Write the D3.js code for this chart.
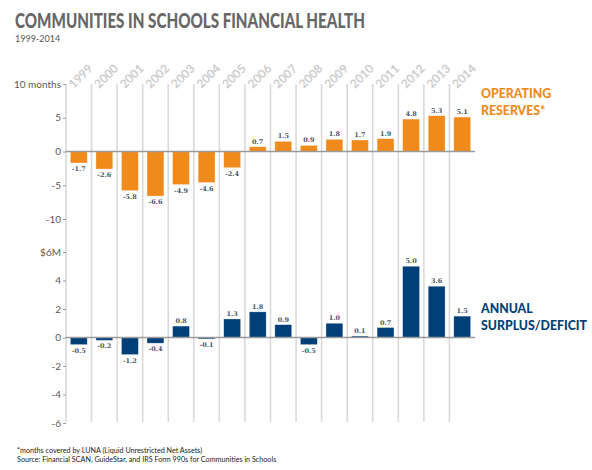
<!DOCTYPE html>
<html><head><meta charset="utf-8">
<script src="https://cdn.jsdelivr.net/npm/d3@7/dist/d3.min.js"></script>
<style>
body{margin:0;background:#fff;}
svg{display:block;}
</style></head>
<body>
<script>
const years = ["1999","2000","2001","2002","2003","2004","2005","2006","2007","2008","2009","2010","2011","2012","2013","2014"];
const reserves = [-1.7,-2.6,-5.8,-6.6,-4.9,-4.6,-2.4,0.7,1.5,0.9,1.8,1.7,1.9,4.8,5.3,5.1];
const surplus = [-0.5,-0.2,-1.2,-0.4,0.8,-0.1,1.3,1.8,0.9,-0.5,1.0,0.1,0.7,5.0,3.6,1.5];
const reserveTicks = [10,5,0,-5,-10];
const reserveTickLabels = ["10 months","5","0","-5","-10"];
const surplusTicks = [6,4,2,0,-2,-4,-6];
const surplusTickLabels = ["$6M","4","2","0","-2","-4","-6"];

const W=592,H=470;
const orange="#F08A1A", navy="#003F78";
const svg=d3.select("body").append("svg").attr("width",W).attr("height",H);
const font="Lato, 'Open Sans', sans-serif";

// title
svg.append("text").attr("x",15).attr("y",28).text("COMMUNITIES IN SCHOOLS FINANCIAL HEALTH")
  .attr("font-family","Lato, 'Open Sans', sans-serif").attr("font-weight",900).attr("font-size",21).attr("fill","#676767")
  .attr("textLength",350).attr("lengthAdjust","spacingAndGlyphs");
svg.append("text").attr("x",15).attr("y",42).text("1999-2014")
  .attr("font-family",font).attr("font-size",9).attr("fill","#555");

const x=d3.scaleBand().domain(years).range([66,475]).padding(0);
const bw=x.bandwidth()*0.66;
const yTop=d3.scaleLinear().domain([-10,10]).range([219,84]);
const yBot=d3.scaleLinear().domain([-6,6]).range([423,252]);

// gridlines
svg.append("g").selectAll("line").data(years).join("line")
  .attr("x1",d=>x(d)).attr("x2",d=>x(d)).attr("y1",84).attr("y2",422)
  .attr("stroke","#d9d9d9").attr("stroke-width",1.6);

// year labels
svg.append("g").selectAll("text").data(years).join("text")
  .attr("transform",d=>`translate(${x(d)+x.bandwidth()/2-5},89) rotate(-45)`)
  .text(d=>d).attr("font-family",font).attr("font-weight",700).attr("font-size",12)
  .attr("fill","#cdcdcd");

function panel(y,vals,ticks,tickLabels,color){
  const ax=d3.axisLeft(y).tickValues(ticks).tickSize(3).tickPadding(2)
    .tickFormat((d,i)=>tickLabels[i]);
  const g=svg.append("g").attr("transform","translate(66,0)").call(ax);
  g.select(".domain").remove();
  g.selectAll(".tick line").attr("stroke","#999");
  g.selectAll(".tick text").attr("font-family",font).attr("font-size",10).attr("fill","#595959");
  const data=years.map((yr,i)=>({yr,v:vals[i]}));
  svg.append("g").selectAll("rect").data(data).join("rect")
    .attr("x",d=>x(d.yr)+(x.bandwidth()-bw)/2).attr("width",bw)
    .attr("y",d=>Math.min(y(0),y(d.v))).attr("height",d=>Math.abs(y(d.v)-y(0)))
    .attr("fill",color).attr("stroke","#fff").attr("stroke-opacity",0.5).attr("stroke-width",0.6);
  svg.append("line").attr("x1",66).attr("x2",475).attr("y1",y(0)).attr("y2",y(0))
    .attr("stroke","#9a9a9a").attr("stroke-width",1.6);
  svg.append("g").selectAll("text").data(data).join("text")
    .attr("x",d=>x(d.yr)+x.bandwidth()/2)
    .attr("y",d=>d.v>=0?y(d.v)-3:y(d.v)+8)
    .attr("text-anchor","middle").text(d=>d.v.toFixed(1))
    .attr("font-family","'DejaVu Serif', serif").attr("font-weight",700).attr("font-size",6.5)
    .attr("fill","#4a5568");
}
panel(yTop,reserves,reserveTicks,reserveTickLabels,orange);
panel(yBot,surplus,surplusTicks,surplusTickLabels,navy);

// series labels
function label(lines,y0,color){
  svg.append("g").selectAll("text").data(lines).join("text")
    .attr("x",481).attr("y",(d,i)=>y0+i*17).text(d=>d)
    .attr("font-family",font).attr("font-weight",900).attr("font-size",12.3).attr("fill",color);
}
label(["OPERATING","RESERVES*"],98,orange);
label(["ANNUAL","SURPLUS/DEFICIT"],313,navy);

// footnotes
svg.append("text").attr("x",17).attr("y",453).text("*months covered by LUNA (Liquid Unrestricted Net Assets)")
  .attr("font-family",font).attr("font-size",7.2).attr("fill","#222");
svg.append("text").attr("x",17).attr("y",462).text("Source: Financial SCAN, GuideStar, and IRS Form 990s for Communities in Schools")
  .attr("font-family",font).attr("font-size",7.2).attr("fill","#222");
</script>
</body></html>
